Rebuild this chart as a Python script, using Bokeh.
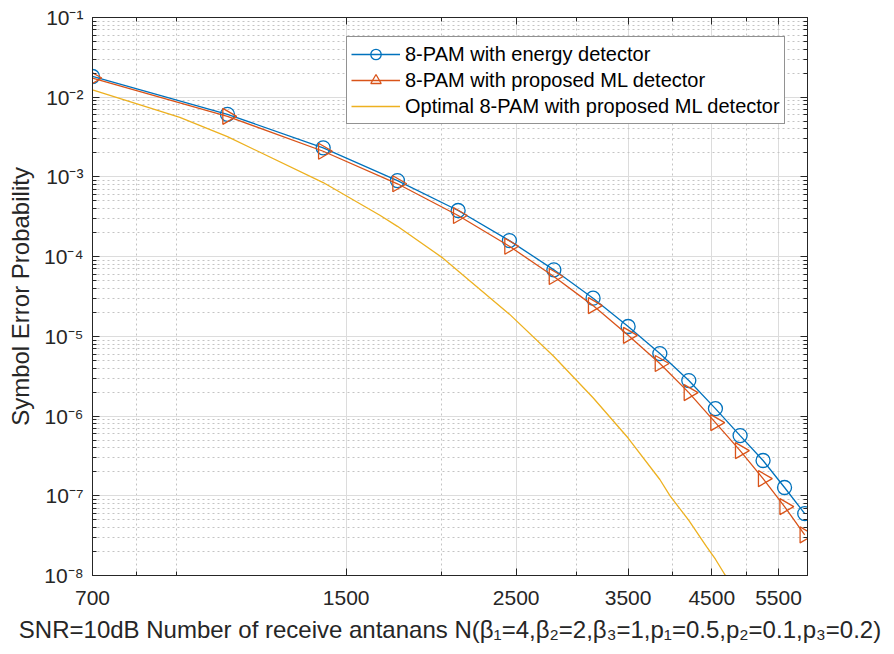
import numpy as np
from bokeh.plotting import figure
from bokeh.models import (FixedTicker, LogAxis, Legend, LegendItem,
                          ColumnDataSource, CustomJSTickFormatter, NumeralTickFormatter)
from bokeh.embed import file_html
from bokeh.resources import INLINE

# ---------------- data ----------------
N = [700, 1050, 1400, 1750, 2100, 2450, 2800, 3150, 3500, 3850, 4200, 4550,
     4900, 5250, 5600, 5950]
ser_energy = [1.82e-2, 6.1e-3, 2.32e-3, 9.0e-4, 3.79e-4, 1.59e-4, 6.83e-5,
              3.01e-5, 1.33e-5, 6.08e-6, 2.79e-6, 1.24e-6, 5.69e-7, 2.77e-7,
              1.27e-7, 5.98e-8]
ser_ml = [1.74e-2, 5.75e-3, 2.1e-3, 8.2e-4, 3.28e-4, 1.35e-4, 5.63e-5,
          2.43e-5, 1.03e-5, 4.56e-6, 1.97e-6, 8.29e-7, 3.69e-7, 1.64e-7,
          7.32e-8, 3.23e-8]
N_opt = [700, 910, 1050, 1400, 1660, 1750, 2000, 2100, 2450, 2800, 3150,
         3500, 3850, 3970, 4200, 4430, 4550, 4900]
ser_opt = [1.24e-2, 5.6e-3, 3.2e-3, 8.5e-4, 3.3e-4, 2.4e-4, 9.8e-5, 6.6e-5,
           1.9e-5, 5.6e-6, 1.7e-6, 5.3e-7, 1.6e-7, 1.0e-7, 4.9e-8, 2.3e-8,
           1.6e-8, 5.0e-9]

series_labels = ["8-PAM with energy detector",
                 "8-PAM with proposed ML detector",
                 "Optimal 8-PAM with proposed ML detector"]

x_major = [700, 1500, 2500, 3500, 4500, 5500]
x_minor = [800, 900, 2000, 3000, 4000, 5000]
y_major = [1e-8, 1e-7, 1e-6, 1e-5, 1e-4, 1e-3, 1e-2, 1e-1]
y_labels = ["10\u207b\u2078", "10\u207b\u2077", "10\u207b\u2076",
            "10\u207b\u2075", "10\u207b\u2074", "10\u207b\u00b3",
            "10\u207b\u00b2", "10\u207b\u00b9"]
y_minor = [m * d for d in y_major[:-1] for m in range(2, 10)]

x_title = ("SNR=10dB Number of receive antanans N(\u03b2\u2081=4,\u03b2\u2082=2,"
           "\u03b2\u2083=1,p\u2081=0.5,p\u2082=0.1,p\u2083=0.2)")
y_title = "Symbol Error Probability"

# ---------------- styling ----------------
FONT = "Liberation Sans"
AX = "#262626"
BLUE, ORANGE, YELLOW = "#0072BD", "#D95319", "#EDB120"

p = figure(width=894, height=654, x_axis_type="log", y_axis_type="log",
           x_range=(700, 6000), y_range=(1e-8, 1e-1),
           output_backend="svg", toolbar_location=None,
           min_border_left=92, min_border_right=87, min_border_top=17,
           min_border_bottom=79)
p.background_fill_color = "white"
p.border_fill_color = "white"
p.outline_line_color = AX

xt = FixedTicker(ticks=x_major, minor_ticks=x_minor)
yt = FixedTicker(ticks=y_major, minor_ticks=y_minor)
blank = CustomJSTickFormatter(code="return ''")
ylab_fmt = CustomJSTickFormatter(
    args=dict(dec_vals=y_major, dec_labels=y_labels),
    code="""
    let k = -1;
    for (let j = 0; j < dec_vals.length; j++) {
        if (Math.abs(Math.log10(dec_vals[j]) - Math.log10(tick)) < 1e-6) { k = j; }
    }
    return k >= 0 ? dec_labels[k] : '';
    """)

p.xaxis.ticker = xt
p.xaxis.formatter = NumeralTickFormatter(format="0")
p.yaxis.ticker = yt
p.yaxis.formatter = ylab_fmt

for ax in (p.xaxis[0], p.yaxis[0]):
    ax.axis_line_color = AX
    ax.major_tick_line_color = AX
    ax.minor_tick_line_color = AX
    ax.major_tick_in = 7
    ax.major_tick_out = 0
    ax.minor_tick_in = 4
    ax.minor_tick_out = 0
    ax.major_label_text_font = FONT
    ax.major_label_text_font_size = "21px"
    ax.major_label_text_color = AX
    ax.axis_label_text_font = FONT
    ax.axis_label_text_font_size = "24px"
    ax.axis_label_text_font_style = "normal"
    ax.axis_label_text_color = AX

p.xaxis.major_label_standoff = 15
p.xaxis.axis_label = x_title
p.xaxis.axis_label_standoff = 8
p.yaxis.major_label_standoff = 9
p.yaxis.axis_label = y_title
p.yaxis.axis_label_standoff = 7

for loc, tk in (("above", xt), ("right", yt)):
    a = LogAxis(ticker=tk, formatter=blank, major_label_text_font_size="0px",
                major_label_standoff=0, axis_line_color=AX,
                major_tick_line_color=AX, minor_tick_line_color=AX,
                major_tick_in=7, major_tick_out=0, minor_tick_in=4,
                minor_tick_out=0)
    p.add_layout(a, loc)

for g, tk in ((p.xgrid[0], xt), (p.ygrid[0], yt)):
    g.ticker = tk
    g.grid_line_color = "#dcdcdc"
    g.grid_line_width = 1
    g.minor_grid_line_color = "#c4c4c4"
    g.minor_grid_line_dash = "2 3"
    g.minor_grid_line_width = 1

# ---------------- series ----------------
src_e = ColumnDataSource(dict(x=N, y=ser_energy))
src_m = ColumnDataSource(dict(x=N, y=ser_ml))

r1 = p.line("x", "y", source=src_e, line_color=BLUE, line_width=1.3)
m1 = p.scatter("x", "y", source=src_e, marker="circle", size=14,
               fill_color=None, line_color=BLUE, line_width=1.3)
r2 = p.line("x", "y", source=src_m, line_color=ORANGE, line_width=1.3)
m2 = p.scatter("x", "y", source=src_m, marker="triangle", size=16,
               angle=-np.pi / 2, fill_color=None, line_color=ORANGE,
               line_width=1.3)
r3 = p.line(N_opt, ser_opt, line_color=YELLOW, line_width=1.3)

legend = Legend(items=[LegendItem(label=series_labels[0], renderers=[r1, m1]),
                       LegendItem(label=series_labels[1], renderers=[r2, m2]),
                       LegendItem(label=series_labels[2], renderers=[r3])],
                location=(254, 451), orientation="vertical")
legend.label_text_font = FONT
legend.label_text_font_size = "20px"
legend.label_text_color = "black"
legend.border_line_color = AX
legend.border_line_width = 1
legend.background_fill_color = "white"
legend.background_fill_alpha = 1
legend.glyph_width = 49
legend.glyph_height = 26
legend.label_height = 23
legend.label_standoff = 5
legend.padding = 4
legend.spacing = 0
legend.margin = 0
p.add_layout(legend)

open("out.html", "w").write(file_html(p, INLINE))
